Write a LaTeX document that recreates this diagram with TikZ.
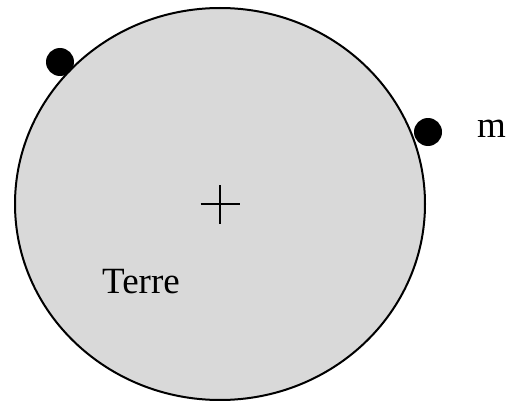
\documentclass[tikz,border=0pt]{standalone}
\usepackage{fontspec}
\setmainfont{Liberation Serif}
\usetikzlibrary{positioning,calc}
\definecolor{terregray}{gray}{0.85}

\begin{document}
\begin{tikzpicture}[
  x=1pt, y=1pt,
  lbl/.style={font=\fontsize{37}{41}\selectfont, inner sep=0pt},
  masse/.style={circle, fill=black, minimum size=28pt, inner sep=0pt}
]
\useasboundingbox (0,0) rectangle (520,400);
\coordinate (centre) at (220,196);
\draw[line width=2pt, fill=terregray] (centre) ellipse [x radius=205, y radius=196];
\draw[line width=1.3pt] ($(centre)+(-19.5,0)$) -- ($(centre)+(19.5,0)$)
  ($(centre)+(0,-19.5)$) -- ($(centre)+(0,19.5)$);
\node[lbl, anchor=base] (terre) at (141,107) {Terre};
\node[masse] (m1) at (60,338) {};
\node[masse] (m2) at (428,268) {};
\node[lbl, anchor=base west] (lm) at (477,263) {m};
\end{tikzpicture}
\end{document}
